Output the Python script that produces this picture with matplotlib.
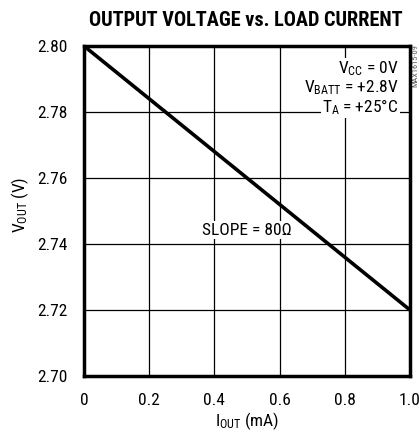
import matplotlib
matplotlib.use("Agg")
import matplotlib.pyplot as plt

iout = [0.0, 1.0]
vout = [2.80, 2.72]
xticks = [0, 0.2, 0.4, 0.6, 0.8, 1.0]
xticklabels = ["0", "0.2", "0.4", "0.6", "0.8", "1.0"]
yticks = [2.70, 2.72, 2.74, 2.76, 2.78, 2.80]
yticklabels = ["2.70", "2.72", "2.74", "2.76", "2.78", "2.80"]

fam = "Roboto Condensed"
plt.rcParams["font.family"] = [fam, "DejaVu Sans"]
plt.rcParams["mathtext.fontset"] = "custom"
plt.rcParams["mathtext.rm"] = fam
plt.rcParams["mathtext.it"] = fam

fig = plt.figure(figsize=(4.19, 4.37), dpi=100)
ax = fig.add_axes([84/419, 1-376/437, (410-84)/419, (376-46)/437])
ax.plot(iout, vout, color="black", lw=2.6, solid_capstyle="butt", zorder=3)
ax.set_xlim(0, 1.0)
ax.set_ylim(2.70, 2.80)
ax.set_xticks(xticks)
ax.set_xticklabels(xticklabels)
ax.set_yticks(yticks)
ax.set_yticklabels(yticklabels)
ax.grid(True, color="black", lw=0.9)
ax.tick_params(length=0, labelsize=12.5, pad=12)
for s in ax.spines.values():
    s.set_linewidth(2.5)

ax.set_xlabel(r"I$_{\mathrm{OUT}}$ (mA)", fontsize=12.5, labelpad=2)
ax.set_ylabel(r"V$_{\mathrm{OUT}}$ (V)", fontsize=12.5, labelpad=0)
ax.yaxis.set_label_coords(-53/326, 0.52)
fig.text(246/419, 1-20/437, "OUTPUT VOLTAGE vs. LOAD CURRENT", ha="center", va="center",
         fontsize=14.6, fontweight="heavy")

bbox = dict(facecolor="white", edgecolor="none", pad=1)
ax.text(0.965, 0.93, r"V$_{\mathrm{CC}}$ = 0V", transform=ax.transAxes, ha="right", va="center",
        fontsize=12.5, bbox=bbox, zorder=4)
ax.text(0.965, 0.875, r"V$_{\mathrm{BATT}}$ = +2.8V", transform=ax.transAxes, ha="right", va="center",
        fontsize=12.5, bbox=bbox, zorder=4)
ax.text(0.965, 0.815, r"T$_{\mathrm{A}}$ = +25°C", transform=ax.transAxes, ha="right", va="center",
        fontsize=12.5, bbox=bbox, zorder=4)
ax.text(0.362, 2.7442, "SLOPE = 80Ω", ha="left", va="center", fontsize=12.5, bbox=bbox, zorder=4)

fig.text(415/419, 1-66/437, "MAX1615-09", rotation=90, ha="center", va="center",
         fontsize=6, color="#555555")

fig.savefig("out.png", dpi=100)
